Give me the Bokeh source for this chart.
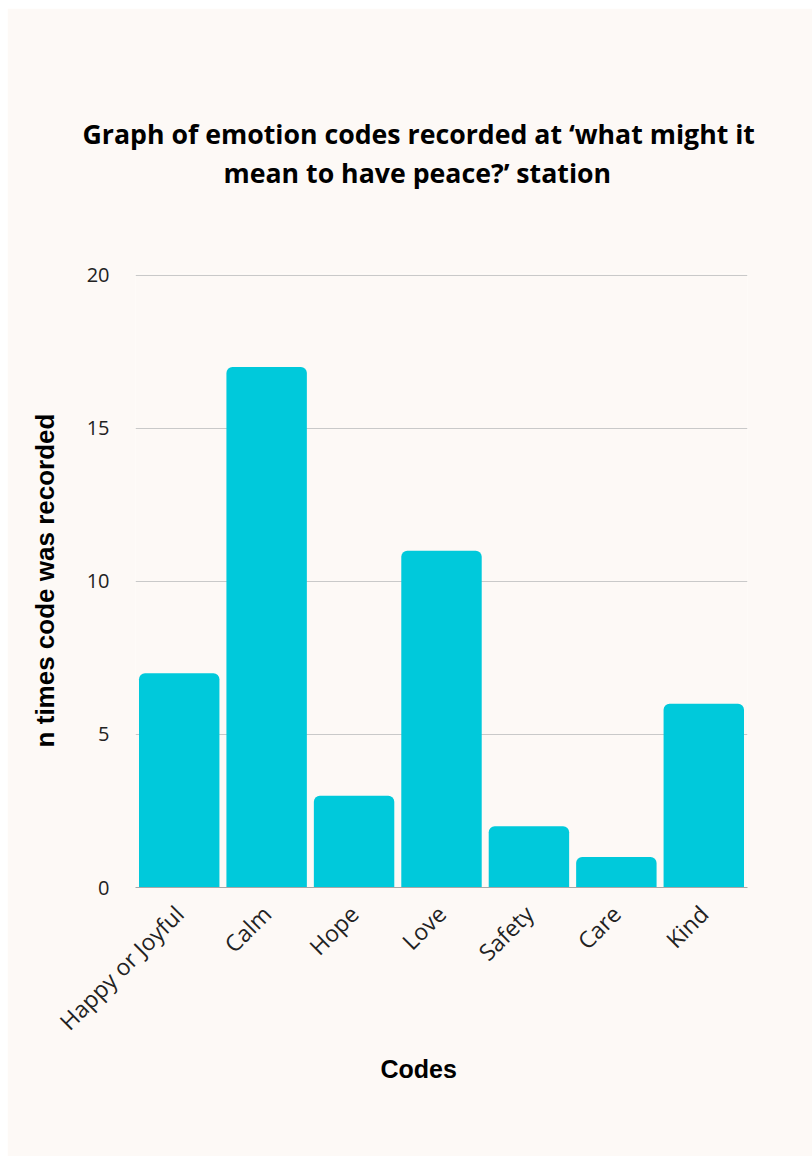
from bokeh.plotting import figure
from bokeh.models import ColumnDataSource, Title, FactorRange, Range1d, FixedTicker
from bokeh.embed import file_html
from bokeh.resources import INLINE
import math

codes = ["Happy or Joyful", "Calm", "Hope", "Love", "Safety", "Care", "Kind"]
counts = [7, 17, 3, 11, 2, 1, 6]
y_ticks = [0, 5, 10, 15, 20]
title_lines = ["Graph of emotion codes recorded at \u2018what might it",
               "mean to have peace?\u2019 station"]
x_label = "Codes"
y_label = "n times code was recorded"

BG = "#fdf9f6"
BAR = "#00c9db"

src = ColumnDataSource(dict(code=codes, n=counts))

p = figure(x_range=FactorRange(*codes, range_padding=0), y_range=Range1d(0, 20.05),
           width=805, height=1148, output_backend="svg", toolbar_location=None,
           min_border_left=128, min_border_right=65, min_border_top=265, min_border_bottom=269,
           background_fill_color=BG, border_fill_color=BG, outline_line_color=None,
           margin=(8, 0, 0, 7))

p.vbar(x="code", top="n", width=0.92, source=src, fill_color=BAR, line_color=None,
       border_radius=(6, 6, 0, 0))

p.xgrid.grid_line_color = None
p.ygrid.grid_line_color = "#c9c9c9"
p.ygrid.grid_line_width = 1
p.yaxis.ticker = FixedTicker(ticks=y_ticks)

p.yaxis.axis_line_color = None
p.yaxis.major_tick_line_color = None
p.yaxis.minor_tick_line_color = None
p.yaxis.major_label_text_font = "Open Sans"
p.yaxis.major_label_text_font_size = "20px"
p.yaxis.major_label_text_color = "#222222"
p.yaxis.major_label_standoff = 20
p.yaxis.axis_label = y_label
p.yaxis.axis_label_text_font = "Liberation Sans"
p.yaxis.axis_label_text_font_style = "bold"
p.yaxis.axis_label_text_font_size = "26px"
p.yaxis.axis_label_text_color = "#000000"
p.yaxis.axis_label_standoff = 24

p.xaxis.axis_line_color = "#a8a8a8"
p.xaxis.axis_line_width = 1
p.xaxis.major_tick_line_color = None
p.xaxis.minor_tick_line_color = None
p.xaxis.major_label_orientation = math.pi / 4
p.xaxis.major_label_text_font = "Open Sans"
p.xaxis.major_label_text_font_size = "23px"
p.xaxis.major_label_text_color = "#222222"
p.xaxis.major_label_standoff = 16

p.title.text = ""

title_style = dict(text_font="Open Sans", text_font_style="bold", text_font_size="26.7px",
                   text_color="#000000", align="left", vertical_align="middle", standoff=0)

# stacked outward from the frame: spacer, line 2, line 1
p.add_layout(Title(text=" ", text_font_size="1px", standoff=79), "above")
p.add_layout(Title(text=title_lines[1], offset=88, **title_style), "above")
p.add_layout(Title(text=title_lines[0], offset=-53, **title_style), "above")

# "Codes" label below the axis
p.add_layout(Title(text=x_label, align="left", offset=245, vertical_align="middle",
                   text_font="Liberation Sans", text_font_style="bold",
                   text_font_size="25px", text_color="#000000", standoff=6), "below")

open("out.html", "w").write(file_html(p, INLINE))
